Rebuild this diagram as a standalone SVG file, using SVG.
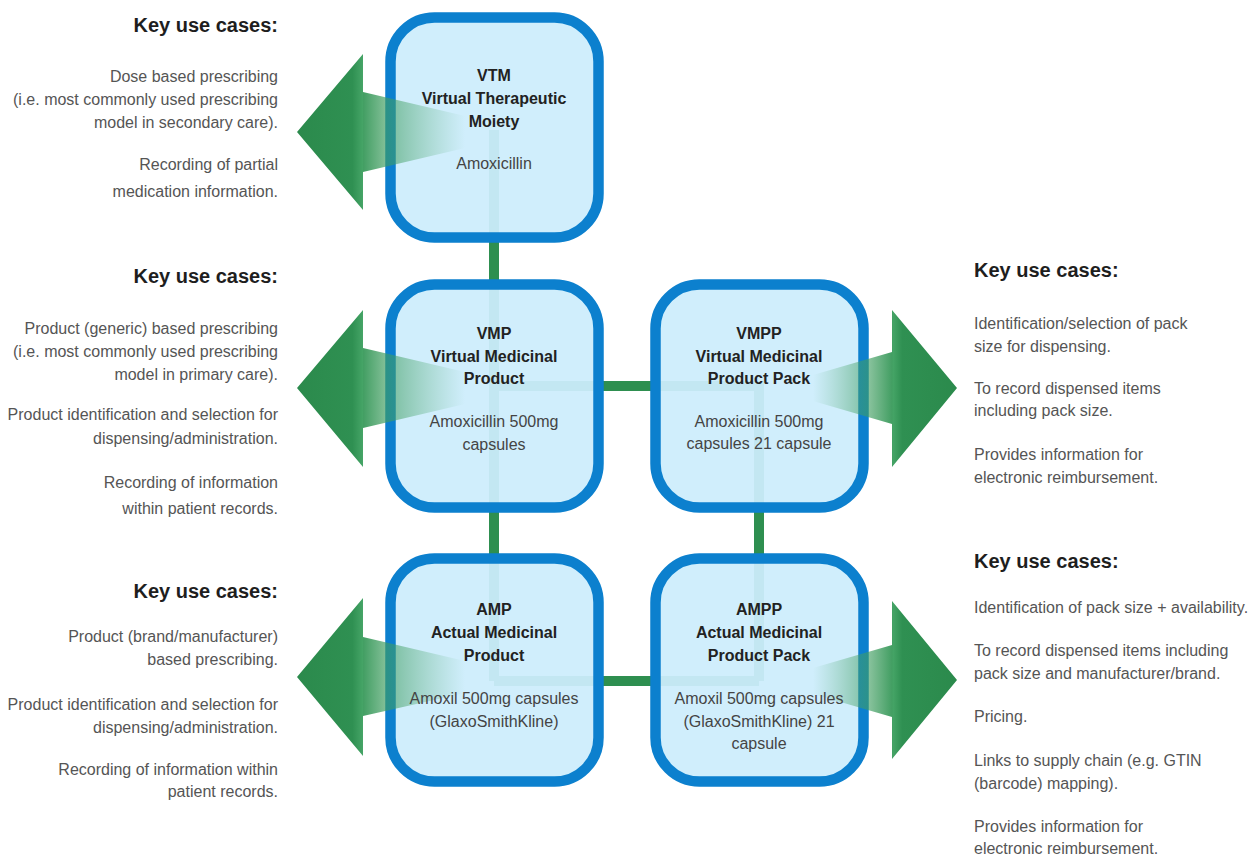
<svg xmlns="http://www.w3.org/2000/svg" width="1257" height="858" viewBox="0 0 1257 858">
<defs>
<linearGradient id="gL" x1="0" y1="0" x2="1" y2="0">
<stop offset="0" stop-color="#2b8a4c"/>
<stop offset="0.33" stop-color="#2f9052"/>
<stop offset="0.39" stop-color="#45a466"/>
<stop offset="0.393" stop-color="#38995a" stop-opacity="0.95"/>
<stop offset="0.55" stop-color="#3f9d60" stop-opacity="0.6"/>
<stop offset="1" stop-color="#5fb07c" stop-opacity="0"/>
</linearGradient>
<linearGradient id="gR" x1="1" y1="0" x2="0" y2="0">
<stop offset="0" stop-color="#2b8a4c"/>
<stop offset="0.38" stop-color="#2f9052"/>
<stop offset="0.445" stop-color="#45a466"/>
<stop offset="0.45" stop-color="#38995a" stop-opacity="0.95"/>
<stop offset="0.62" stop-color="#3f9d60" stop-opacity="0.6"/>
<stop offset="1" stop-color="#5fb07c" stop-opacity="0"/>
</linearGradient>
</defs>
<style>
.box{fill:#cdedfc;fill-opacity:0.94;stroke:#0c80ce;stroke-width:10.5}
.conn{stroke:#2e8f50;stroke-width:10;fill:none}
.t{font-family:"Liberation Sans",Arial,sans-serif;font-size:16px;text-anchor:middle}
.tb{font-weight:bold;fill:#222}
.td{fill:#444}
.h{font-family:"Liberation Sans",Arial,sans-serif;font-size:20px;font-weight:bold;fill:#1e1e1e}
.b{font-family:"Liberation Sans",Arial,sans-serif;font-size:16px;fill:#555}
.l{text-anchor:end}
.r{text-anchor:start}
.aL{fill:url(#gL)}
.aR{fill:url(#gR)}
</style>
<rect width="1257" height="858" fill="#ffffff"/>
<g id="connectors">
<path class="conn" d="M494 130 V681"/>
<path class="conn" d="M494 386 H759 V681"/>
<path class="conn" d="M494 681 H759"/>
</g>
<g id="vtm">
<rect class="box" x="390.5" y="17.5" width="208" height="220" rx="44"/>
<polygon class="aL" points="297,132 363,54 363,92 465,116 465,148 363,172 363,210"/>
<text class="t tb" x="494" y="81">VTM</text>
<text class="t tb" x="494" y="104">Virtual Therapeutic</text>
<text class="t tb" x="494" y="127">Moiety</text>
<text class="t td" x="494" y="169">Amoxicillin</text>
</g>
<g id="vmp">
<rect class="box" x="390.5" y="284.5" width="208" height="223" rx="44"/>
<polygon class="aL" points="297,388 363,310 363,348 465,372 465,404 363,428 363,467"/>
<text class="t tb" x="494" y="339">VMP</text>
<text class="t tb" x="494" y="362">Virtual Medicinal</text>
<text class="t tb" x="494" y="384">Product</text>
<text class="t td" x="494" y="427">Amoxicillin 500mg</text>
<text class="t td" x="494" y="450">capsules</text>
</g>
<g id="vmpp">
<rect class="box" x="655.5" y="284.5" width="208" height="223" rx="44"/>
<polygon class="aR" points="957,388 892,310 892,352 813,375 813,401 892,424 892,467"/>
<text class="t tb" x="759" y="339">VMPP</text>
<text class="t tb" x="759" y="362">Virtual Medicinal</text>
<text class="t tb" x="759" y="384">Product Pack</text>
<text class="t td" x="759" y="427">Amoxicillin 500mg</text>
<text class="t td" x="759" y="449">capsules 21 capsule</text>
</g>
<g id="amp">
<rect class="box" x="390.5" y="558.5" width="208" height="223" rx="44"/>
<polygon class="aL" points="297,677 363,598 363,637 465,661 465,693 363,716 363,756"/>
<text class="t tb" x="494" y="615">AMP</text>
<text class="t tb" x="494" y="638">Actual Medicinal</text>
<text class="t tb" x="494" y="661">Product</text>
<text class="t td" x="494" y="704">Amoxil 500mg capsules</text>
<text class="t td" x="494" y="727">(GlaxoSmithKline)</text>
</g>
<g id="ampp">
<rect class="box" x="655.5" y="558.5" width="208" height="223" rx="44"/>
<polygon class="aR" points="957,680 892,601 892,645 813,668 813,694 892,717 892,759"/>
<text class="t tb" x="759" y="615">AMPP</text>
<text class="t tb" x="759" y="638">Actual Medicinal</text>
<text class="t tb" x="759" y="661">Product Pack</text>
<text class="t td" x="759" y="704">Amoxil 500mg capsules</text>
<text class="t td" x="759" y="727">(GlaxoSmithKline) 21</text>
<text class="t td" x="759" y="749">capsule</text>
</g>
<g id="uses-vtm">
<text class="h l" x="278" y="32">Key use cases:</text>
<text class="b l" x="278" y="82">Dose based prescribing</text>
<text class="b l" x="278" y="105">(i.e. most commonly used prescribing</text>
<text class="b l" x="278" y="128">model in secondary care).</text>
<text class="b l" x="278" y="170">Recording of partial</text>
<text class="b l" x="278" y="197">medication information.</text>
</g>
<g id="uses-vmp">
<text class="h l" x="278" y="283">Key use cases:</text>
<text class="b l" x="278" y="334">Product (generic) based prescribing</text>
<text class="b l" x="278" y="357">(i.e. most commonly used prescribing</text>
<text class="b l" x="278" y="380">model in primary care).</text>
<text class="b l" x="278" y="420">Product identification and selection for</text>
<text class="b l" x="278" y="444">dispensing/administration.</text>
<text class="b l" x="278" y="488">Recording of information</text>
<text class="b l" x="278" y="514">within patient records.</text>
</g>
<g id="uses-amp">
<text class="h l" x="278" y="598">Key use cases:</text>
<text class="b l" x="278" y="642">Product (brand/manufacturer)</text>
<text class="b l" x="278" y="665">based prescribing.</text>
<text class="b l" x="278" y="710">Product identification and selection for</text>
<text class="b l" x="278" y="733">dispensing/administration.</text>
<text class="b l" x="278" y="775">Recording of information within</text>
<text class="b l" x="278" y="797">patient records.</text>
</g>
<g id="uses-vmpp">
<text class="h r" x="974" y="277">Key use cases:</text>
<text class="b r" x="974" y="329">Identification/selection of pack</text>
<text class="b r" x="974" y="352">size for dispensing.</text>
<text class="b r" x="974" y="394">To record dispensed items</text>
<text class="b r" x="974" y="416">including pack size.</text>
<text class="b r" x="974" y="460">Provides information for</text>
<text class="b r" x="974" y="483">electronic reimbursement.</text>
</g>
<g id="uses-ampp">
<text class="h r" x="974" y="568">Key use cases:</text>
<text class="b r" x="974" y="613">Identification of pack size + availability.</text>
<text class="b r" x="974" y="656">To record dispensed items including</text>
<text class="b r" x="974" y="679">pack size and manufacturer/brand.</text>
<text class="b r" x="974" y="722">Pricing.</text>
<text class="b r" x="974" y="766">Links to supply chain (e.g. GTIN</text>
<text class="b r" x="974" y="789">(barcode) mapping).</text>
<text class="b r" x="974" y="832">Provides information for</text>
<text class="b r" x="974" y="854">electronic reimbursement.</text>
</g>
</svg>
